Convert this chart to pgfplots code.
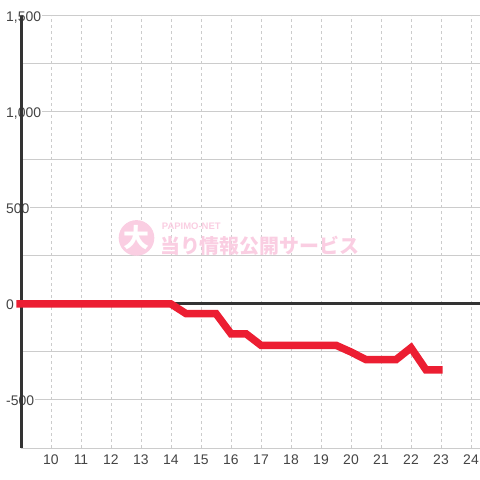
\documentclass[border=0pt]{standalone}
\usepackage{fontspec}
\setmainfont{Liberation Sans}
\newfontfamily\cjk{Noto Sans CJK JP}
\usepackage{pgfplots}
\pgfplotsset{compat=1.18}
\definecolor{redline}{RGB}{236,30,50}
\definecolor{gridc}{RGB}{204,204,204}
\definecolor{axc}{RGB}{51,51,51}
\definecolor{txt}{RGB}{68,68,68}
\definecolor{wm}{RGB}{250,206,226}
\begin{document}
\begin{tikzpicture}
\path[use as bounding box] (-21bp,-32bp) rectangle (459bp,448bp);
\begin{axis}[
  at={(0,0)}, anchor=south west,
  scale only axis, width=459bp, height=432bp,
  xmin=9, xmax=24.3, ymin=-750, ymax=1500,
  axis line style={draw=none},
  xtick={10,...,24},
  ytick={-500,0,500,1000,1500},
  minor ytick={-750,-250,250,750,1250},
  grid=both,
  major x grid style={gridc, line width=1bp, dash pattern=on 3bp off 3bp},
  major y grid style={gridc, line width=1bp},
  minor y grid style={gridc, line width=1bp},
  major tick length=0pt, minor tick length=0pt,
  /pgf/number format/assume math mode=true,
  /pgf/number format/1000 sep={,},
  every x tick label/.append style={font=\fontsize{14}{16}\selectfont, text=txt, anchor=center, yshift=-12bp},
  every y tick label/.append style={font=\fontsize{14}{16}\selectfont, text=txt, anchor=base west, xshift=-15.5bp, yshift=-5.5bp, fill=white, inner sep=0.5bp},
  clip=false,
]
% watermark
\node[circle, fill=wm, minimum size=33bp, inner sep=0pt, text=white, font=\cjk\bfseries\fontsize{26}{26}\selectfont] at (axis cs:12.85,344) {大};
\node[anchor=west, text=wm, font=\cjk\bfseries\fontsize{20}{20}\selectfont, inner sep=0pt] at (axis cs:13.63,305) {当り情報公開サービス};
\node[anchor=west, text=wm, font=\bfseries\fontsize{9.5}{10}\selectfont, inner sep=0pt] at (axis cs:13.69,406) {PAPIMO-NET};
% axis lines
\addplot[axc, line width=3bp, forget plot] coordinates {(9,-750) (9,1500)};
\addplot[axc, line width=3bp, forget plot] coordinates {(9,0) (24.3,0)};
% data
\addplot[redline, line width=7.5bp, line join=miter, line cap=butt] coordinates {
(8.85,0) (9,0) (10,0) (11,0) (12,0) (13,0) (14,0) (14.5,-50) (15,-50) (15.5,-50)
(16,-155) (16.5,-155) (17,-215) (17.5,-215) (18,-215) (18.5,-215) (19,-215) (19.5,-215)
(20,-250) (20.5,-290) (21,-290) (21.5,-290) (22,-228) (22.5,-343) (23,-343) (23.05,-343)
};
\end{axis}
\end{tikzpicture}
\end{document}
